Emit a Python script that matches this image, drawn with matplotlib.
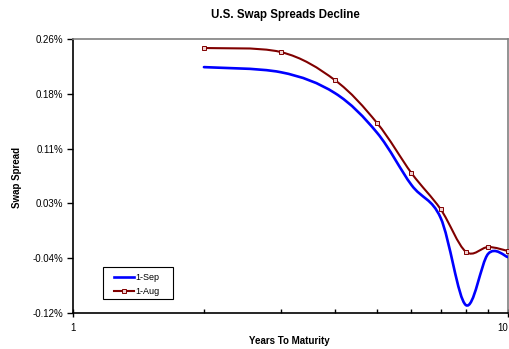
import numpy as np
import matplotlib
matplotlib.use("Agg")
import matplotlib.pyplot as plt
from matplotlib.path import Path
from matplotlib.patches import PathPatch, Rectangle
from matplotlib.lines import Line2D
from matplotlib.ticker import FixedLocator, FuncFormatter, LogLocator, NullFormatter

plt.rcParams["font.family"] = ["Liberation Sans", "DejaVu Sans"]

# Years to maturity and swap spreads (in %)
years = [2, 3, 4, 5, 6, 7, 8, 9, 10]
spread_sep = [0.221, 0.214, 0.185, 0.130, 0.0575, 0.012, -0.109, -0.038, -0.0425]
spread_aug = [0.2475, 0.242, 0.203, 0.1435, 0.074, 0.024, -0.035, -0.0285, -0.034]
series_names = ["1-Sep", "1-Aug"]
y_ticks = list(np.linspace(-0.12, 0.26, 6))

W, H = 509, 349


def smooth_path(xs, ys):
    """Catmull-Rom style Bezier path (x on log axis), like a smoothed line chart."""
    lx = np.log10(np.asarray(xs, float))
    y = np.asarray(ys, float)
    pts = np.column_stack([lx, y])
    n = len(pts)
    verts = [pts[0]]
    codes = [Path.MOVETO]
    for i in range(n - 1):
        p0 = pts[i - 1] if i > 0 else pts[i]
        p1 = pts[i]
        p2 = pts[i + 1]
        p3 = pts[i + 2] if i + 2 < n else pts[i + 1]
        c1 = p1 + (p2 - p0) / 6.0
        c2 = p2 - (p3 - p1) / 6.0
        verts += [c1, c2, p2]
        codes += [Path.CURVE4] * 3
    verts = np.array(verts)
    verts[:, 0] = 10 ** verts[:, 0]
    return Path(verts, codes)


fig = plt.figure(figsize=(W / 100, H / 100), dpi=100)
ax_l, ax_r, ax_t, ax_b = 73, 508, 39, 313
ax = fig.add_axes([ax_l / W, 1 - ax_b / H, (ax_r - ax_l) / W, (ax_b - ax_t) / H])
ax.set_xscale("log")
ax.set_xlim(1, 10)
ax.set_ylim(-0.12, 0.26)

blue = "#0000FF"
red = "#800000"
marker_face = "#f0d0d0"

ax.add_patch(PathPatch(smooth_path(years, spread_sep), fill=False,
                       edgecolor=blue, lw=1.9, capstyle="round", joinstyle="round", zorder=3))
ax.add_patch(PathPatch(smooth_path(years, spread_aug), fill=False,
                       edgecolor=red, lw=1.5, capstyle="round", joinstyle="round", zorder=4))
ax.plot(years, spread_aug, ls="none", marker="s", ms=2.8, mfc=marker_face,
        mec=red, mew=0.7, zorder=5, clip_on=False)

# axes styling
for side in ("top", "right"):
    ax.spines[side].set_color("#808080")
    ax.spines[side].set_linewidth(1.2)
for side in ("left", "bottom"):
    ax.spines[side].set_color("black")
    ax.spines[side].set_linewidth(1.2)

ax.yaxis.set_major_locator(FixedLocator(y_ticks))
ax.yaxis.set_major_formatter(FuncFormatter(lambda v, p: f"{v:.2f}%"))
ax.tick_params(axis="y", which="major", direction="out", length=4, width=1,
               labelsize=7, pad=3, colors="black")

ax.xaxis.set_major_locator(FixedLocator([1, 10]))
ax.xaxis.set_major_formatter(FuncFormatter(lambda v, p: f"{v:g}"))
ax.xaxis.set_minor_locator(LogLocator(base=10, subs=np.arange(2, 10)))
ax.xaxis.set_minor_formatter(NullFormatter())
ax.tick_params(axis="x", which="major", direction="inout", length=6, width=1,
               labelsize=7, pad=4)
ax.tick_params(axis="x", which="minor", direction="in", length=3, width=1)
# keep the right-hand "10" inside the figure edge
ax.get_xticklabels()[-1].set_horizontalalignment("right")
ax.get_xticklabels()[-1].set_x(10)

fig.text(285 / W, 1 - 15 / H, "U.S. Swap Spreads Decline", ha="center", va="center",
         fontsize=8.3, fontweight="bold")
fig.text(289 / W, 1 - 341 / H, "Years To Maturity", ha="center", va="center",
         fontsize=7, fontweight="bold")
fig.text(17 / W, 1 - 178 / H, "Swap Spread", ha="center", va="center",
         rotation=90, fontsize=7, fontweight="bold")

# legend: frameless entries inside a drawn box
box_l, box_r, box_t, box_b = 103, 173, 267, 299
fig.add_artist(Rectangle((box_l / W, 1 - box_b / H), (box_r - box_l) / W, (box_b - box_t) / H,
                         transform=fig.transFigure, facecolor="white", edgecolor="black",
                         lw=0.8, zorder=6))
handles = [Line2D([], [], color=blue, lw=1.9),
           Line2D([], [], color=red, lw=1.5, marker="s", ms=2.8, mfc=marker_face, mec=red, mew=0.7)]
leg = fig.legend(handles, series_names, loc="center left",
                 bbox_to_anchor=(114 / W, 1 - 284.5 / H),
                 borderaxespad=0, borderpad=0, fontsize=6.5, handlelength=2.2,
                 handletextpad=0.15, labelspacing=0.55, frameon=False)
leg.set_zorder(7)

fig.savefig("out.png", dpi=100)
